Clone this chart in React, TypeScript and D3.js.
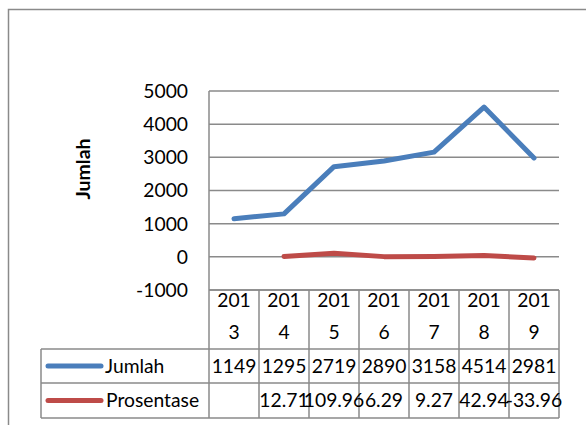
import React from "react";
import * as d3 from "d3";

const years = ["2013", "2014", "2015", "2016", "2017", "2018", "2019"];
const jumlah: (number | null)[] = [1149, 1295, 2719, 2890, 3158, 4514, 2981];
const prosentase: (number | null)[] = [null, 12.71, 109.96, 6.29, 9.27, 42.94, -33.96];
const prosentaseLabels = ["", "12.71", "109.96", "6.29", "9.27", "42.94", "-33.96"];
const yTicks = [-1000, 0, 1000, 2000, 3000, 4000, 5000];

const W = 586;
const H = 425;
const FONT = "Lato, 'Liberation Sans', Arial, sans-serif";
const GRID = "#8a8a8a";
const BLUE = "#4A7EBB";
const RED = "#BE4B48";

export default function App() {
  const plotL = 209, plotR = 559, plotT = 91, plotB = 290;
  const x = d3.scaleBand<string>().domain(years).range([plotL, plotR]);
  const y = d3.scaleLinear().domain([-1000, 5000]).range([plotB, plotT]);
  const cx = (yr: string) => (x(yr) as number) + x.bandwidth() / 2;

  const line = d3
    .line<{ yr: string; v: number | null }>()
    .defined((d) => d.v !== null)
    .x((d) => cx(d.yr))
    .y((d) => y(d.v as number));

  const blueData = years.map((yr, i) => ({ yr, v: jumlah[i] }));
  const redData = years.map((yr, i) => ({ yr, v: prosentase[i] }));

  const legL = 41;
  const rowH0 = 290, rowH1 = 349, rowH2 = 383, rowH3 = 418;
  const fs = 19.3;

  return (
    <svg
      width={W}
      height={H}
      style={{ position: "absolute", left: 0, top: 0 }}
      fontFamily={FONT}
    >
      <rect x={0} y={0} width={W} height={H} fill="#fff" />
      {/* outer frame */}
      <path d={`M8.5,${H} V9.5 H${W}`} fill="none" stroke={GRID} strokeWidth={1.5} />

      {/* gridlines */}
      {yTicks.map((t) => (
        <line
          key={t}
          x1={plotL}
          x2={plotR}
          y1={y(t)}
          y2={y(t)}
          stroke={GRID}
          strokeWidth={1.5}
        />
      ))}
      {/* y axis line */}
      <line x1={plotL} x2={plotL} y1={plotT} y2={plotB} stroke={GRID} strokeWidth={1.5} />

      {/* tick labels */}
      {yTicks.map((t) => (
        <text
          key={t}
          x={188}
          y={y(t)}
          dy="0.36em"
          textAnchor="end"
          fontSize={fs}
          fill="#000"
        >
          {t}
        </text>
      ))}

      {/* axis title */}
      <text
        transform="translate(90,169) rotate(-90)"
        textAnchor="middle"
        fontSize={19.5}
        fontWeight="bold"
        fill="#000"
      >
        Jumlah
      </text>

      {/* series */}
      <path
        d={line(blueData) || ""}
        fill="none"
        stroke={BLUE}
        strokeWidth={5}
        strokeLinecap="round"
        strokeLinejoin="round"
      />
      <path
        d={line(redData) || ""}
        fill="none"
        stroke={RED}
        strokeWidth={5}
        strokeLinecap="round"
        strokeLinejoin="round"
      />

      {/* data table */}
      <g stroke={GRID} strokeWidth={1.5} fill="none">
        <line x1={plotL} x2={plotR} y1={rowH0} y2={rowH0} />
        <line x1={legL} x2={plotR} y1={rowH1} y2={rowH1} />
        <line x1={legL} x2={plotR} y1={rowH2} y2={rowH2} />
        <line x1={legL} x2={plotR} y1={rowH3} y2={rowH3} />
        <line x1={legL} x2={legL} y1={rowH1} y2={rowH3} />
        {years.map((yr) => (
          <line
            key={yr}
            x1={x(yr) as number}
            x2={x(yr) as number}
            y1={rowH0}
            y2={rowH3}
          />
        ))}
        <line x1={plotR} x2={plotR} y1={rowH0} y2={rowH3} />
      </g>

      {/* header */}
      {years.map((yr) => (
        <g key={yr}>
          <text x={cx(yr)} y={306.5} textAnchor="middle" fontSize={fs} fill="#000">
            {yr.slice(0, 3)}
          </text>
          <text x={cx(yr)} y={338.5} textAnchor="middle" fontSize={fs} fill="#000">
            {yr.slice(3)}
          </text>
        </g>
      ))}

      {/* legend keys */}
      <line x1={48} x2={101} y1={366} y2={366} stroke={BLUE} strokeWidth={5} strokeLinecap="round" />
      <text x={105} y={366} dy="0.36em" fontSize={fs} fill="#000">
        Jumlah
      </text>
      <line x1={48} x2={101} y1={400.5} y2={400.5} stroke={RED} strokeWidth={5} strokeLinecap="round" />
      <text x={106} y={400.5} dy="0.36em" fontSize={fs} fill="#000">
        Prosentase
      </text>

      {/* values */}
      {years.map((yr, i) => (
        <text
          key={"j" + yr}
          x={cx(yr)}
          y={366}
          dy="0.36em"
          textAnchor="middle"
          fontSize={fs}
          fill="#000"
        >
          {jumlah[i]}
        </text>
      ))}
      {years.map((yr, i) => (
        <text
          key={"p" + yr}
          x={cx(yr)}
          y={400.5}
          dy="0.36em"
          textAnchor="middle"
          fontSize={fs}
          fill="#000"
        >
          {prosentaseLabels[i]}
        </text>
      ))}
    </svg>
  );
}
